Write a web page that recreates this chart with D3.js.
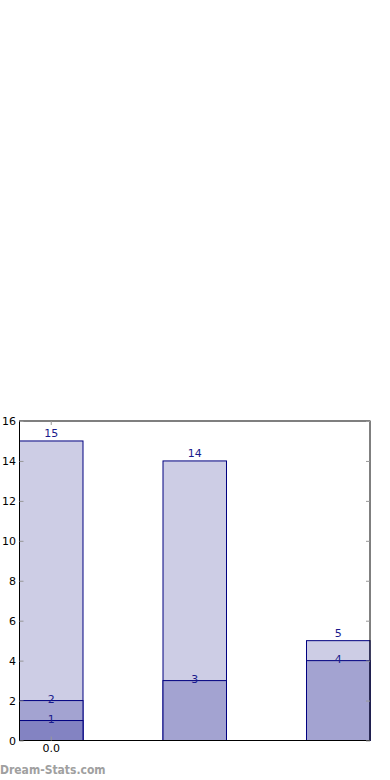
<!DOCTYPE html>
<html>
<head>
<meta charset="utf-8">
<script src="https://cdn.jsdelivr.net/npm/d3@7"></script>
<style>
  body { margin: 0; background: #fff; }
  svg { display: block; font-family: "DejaVu Sans", sans-serif; }
</style>
</head>
<body>
<div id="viz"></div>
<script>
const width = 390;
const height = 780;
const margin = {top: 421, right: 20, bottom: 40, left: 19.5};

// data
const categories = ['0.0', '', ''];
const seriesBack = [15, 14, 5];     // light
const seriesMid = [2, 3, 4];        // medium
const seriesFront = [1, null, null]; // dark
const yTicks = [0, 2, 4, 6, 8, 10, 12, 14, 16];

const colors = ['#cdcde5', '#a3a3d1', '#8383c2'];

const svg = d3.select('#viz')
  .append('svg')
  .attr('width', width)
  .attr('height', height);

const x = d3.scaleBand()
  .domain(d3.range(categories.length))
  .range([margin.left, 370])
  .paddingInner(0.5575)
  .paddingOuter(0);

const y = d3.scaleLinear()
  .domain([0, 16])
  .range([740.5, margin.top]);

const layers = [
  {vals: seriesBack, color: colors[0], top: true},
  {vals: seriesMid, color: colors[1], top: false},
  {vals: seriesFront, color: colors[2], top: false}
];

// bars, drawn from zero, back to front
layers.forEach(layer => {
  const g = svg.append('g');
  const data = layer.vals.map((v, i) => ({i, v})).filter(d => d.v != null);
  g.selectAll('rect')
    .data(data)
    .join('rect')
      .attr('x', d => x(d.i))
      .attr('y', d => y(d.v))
      .attr('width', x.bandwidth())
      .attr('height', d => y(0) - y(d.v))
      .attr('fill', layer.color)
      .attr('stroke', '#000080')
      .attr('stroke-width', 1);
});

// value labels
layers.forEach(layer => {
  const data = layer.vals.map((v, i) => ({i, v})).filter(d => d.v != null);
  svg.append('g')
    .selectAll('text')
    .data(data)
    .join('text')
      .attr('x', d => x(d.i) + x.bandwidth() / 2)
      .attr('y', d => layer.top ? y(d.v) - 4 : y(d.v) + 2)
      .attr('text-anchor', 'middle')
      .attr('font-size', 11)
      .attr('fill', '#1a1a8c')
      .text(d => d.v);
});

// frame
svg.append('rect')
  .attr('x', margin.left)
  .attr('y', margin.top)
  .attr('width', 370 - margin.left)
  .attr('height', y(0) - margin.top)
  .attr('fill', 'none')
  .attr('stroke', '#000')
  .attr('stroke-width', 1);

// y ticks (inside, both sides)
const yAxisL = svg.append('g')
  .attr('transform', `translate(${margin.left},0)`)
  .call(d3.axisLeft(y).tickValues(yTicks).tickSize(-4).tickPadding(3.5));
yAxisL.select('.domain').remove();
yAxisL.selectAll('line').attr('stroke', '#999');
yAxisL.selectAll('text').attr('font-size', 11).attr('fill', '#000')
  .attr('font-family', '"DejaVu Sans", sans-serif');

const yAxisR = svg.append('g')
  .attr('transform', 'translate(370,0)')
  .call(d3.axisRight(y).tickValues(yTicks).tickSize(-4).tickFormat(''));
yAxisR.select('.domain').remove();
yAxisR.selectAll('line').attr('stroke', '#999');

// x ticks
const xAxis = svg.append('g')
  .attr('transform', `translate(0,${y(0)})`)
  .call(d3.axisBottom(x).tickValues([0]).tickFormat(i => categories[i]).tickSize(-4).tickPadding(3.5));
xAxis.select('.domain').remove();
xAxis.selectAll('line').attr('stroke', '#999');
xAxis.selectAll('text').attr('font-size', 11).attr('fill', '#000')
  .attr('font-family', '"DejaVu Sans", sans-serif');

const xAxisTop = svg.append('g')
  .attr('transform', `translate(0,${margin.top})`)
  .call(d3.axisTop(x).tickValues([0]).tickFormat('').tickSize(-4));
xAxisTop.select('.domain').remove();
xAxisTop.selectAll('line').attr('stroke', '#999');

// watermark
svg.append('text')
  .attr('x', 0)
  .attr('y', 774)
  .attr('font-size', 12)
  .attr('font-weight', 'bold')
  .attr('font-family', '"DejaVu Sans Condensed", "DejaVu Sans", sans-serif')
  .attr('font-stretch', 'condensed')
  .attr('fill', '#a0a0a0')
  .text('Dream-Stats.com');
</script>
</body>
</html>
